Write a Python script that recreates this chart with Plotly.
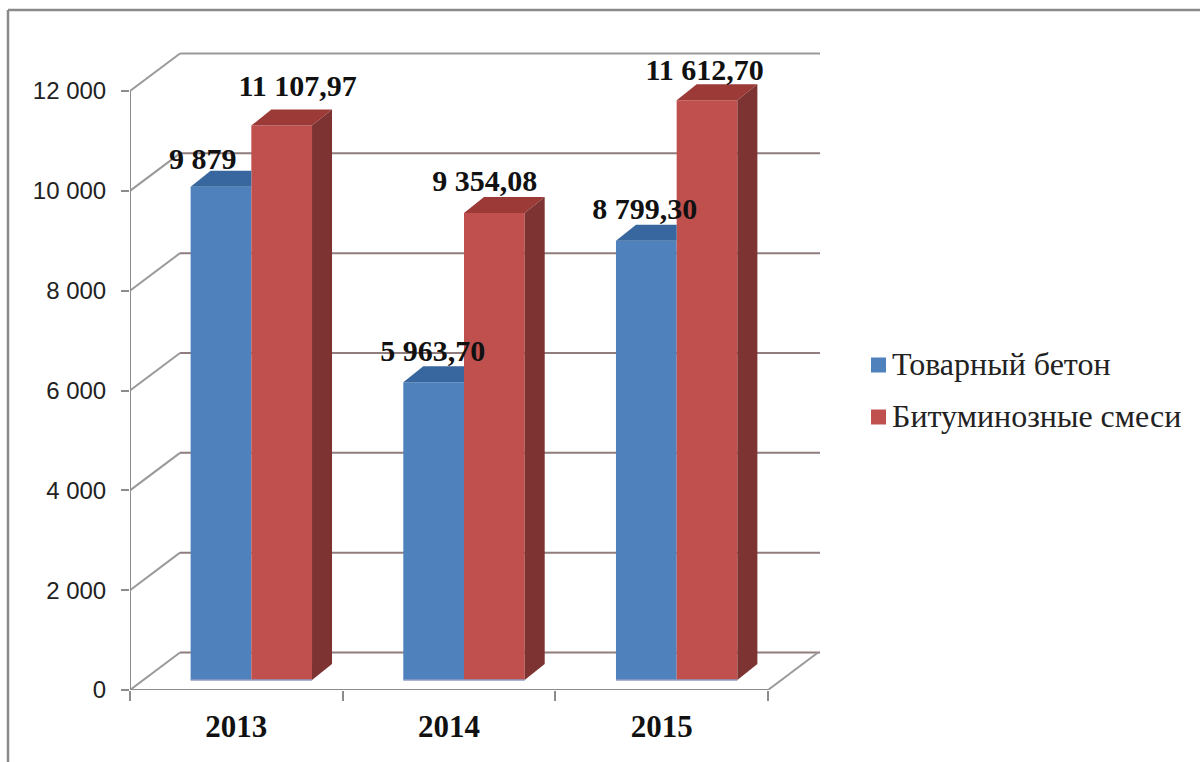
import plotly.graph_objects as go

YEARS = ["2013", "2014", "2015"]
SERIES_A_NAME = "Товарный бетон"
SERIES_B_NAME = "Битуминозные смеси"
CONCRETE = [9879, 5963.70, 8799.30]
ASPHALT = [11107.97, 9354.08, 11612.70]
CONCRETE_LABELS = ["9 879", "5 963,70", "8 799,30"]
ASPHALT_LABELS = ["11 107,97", "9 354,08", "11 612,70"]
Y_TICKS = [0, 2000, 4000, 6000, 8000, 10000, 12000]
Y_TICK_LABELS = ["0", "2 000", "4 000", "6 000", "8 000", "10 000", "12 000"]

W, H = 1200, 762
L, R, T, B = 130, 1200, 50, 690            # plot rectangle in page pixels
PX_PER_X = (768 - 130) / 3
PX_PER_Y = (690 - 91) / 12000
XR = [-0.5, -0.5 + (R - L) / PX_PER_X]
YR = [0, (B - T) / PX_PER_Y]
px = lambda n: n / PX_PER_X
py = lambda n: n / PX_PER_Y

WALL_DX, WALL_DY = px(50), py(37.5)
WALL_END = -0.5 + px(820 - L)
BASE = py(10)
BAR_W = px(60.7)
BAR_START = px(-45.7)
DEPTH_X, DEPTH_Y = px(20), py(16)

BLUE, BLUE_TOP = "#4f81bd", "#38669e"
RED, RED_TOP, RED_SIDE = "#c0504d", "#9c3a38", "#7d3331"
GRID, WALLC, AXIS = "#917d7d", "#9a9a9a", "#8c8c8c"
SERIF = "Liberation Serif"

fig = go.Figure()
shapes = []


def line(x0, y0, x1, y1, color, width=2):
    shapes.append(dict(type="line", xref="x", yref="y", x0=x0, y0=y0, x1=x1, y1=y1,
                       layer="below", line=dict(color=color, width=width)))


# back wall, left wall and floor
for v in Y_TICKS:
    line(-0.5, v, -0.5 + WALL_DX, v + WALL_DY, WALLC)
    line(-0.5 + WALL_DX, v + WALL_DY, WALL_END, v + WALL_DY, WALLC if v == 12000 else GRID)
line(2.5, 0, 2.5 + WALL_DX, WALL_DY, WALLC)

# front faces
fig.add_trace(go.Bar(x=[0, 1, 2], y=CONCRETE, base=BASE, width=BAR_W, offset=BAR_START,
                     marker=dict(color=BLUE, line=dict(width=0)), name=SERIES_A_NAME,
                     showlegend=False))
fig.add_trace(go.Bar(x=[0, 1, 2], y=ASPHALT, base=BASE, width=BAR_W, offset=BAR_START + BAR_W,
                     marker=dict(color=RED, line=dict(width=0)), name=SERIES_B_NAME,
                     showlegend=False))


def face(xs, ys, color):
    fig.add_trace(go.Scatter(x=xs, y=ys, mode="lines", fill="toself", fillcolor=color,
                             line=dict(width=0, color=color), showlegend=False, hoverinfo="skip"))


for i in range(3):
    x0 = i + BAR_START
    xm = x0 + BAR_W
    x1 = xm + BAR_W
    ta = CONCRETE[i] + BASE
    tb = ASPHALT[i] + BASE
    # top of the blue bar, cut off where the red bar starts
    face([x0, x0 + DEPTH_X, xm, xm, x0], [ta, ta + DEPTH_Y, ta + DEPTH_Y, ta, ta], BLUE_TOP)
    # top and side of the red bar
    face([xm, xm + DEPTH_X, x1 + DEPTH_X, x1, xm], [tb, tb + DEPTH_Y, tb + DEPTH_Y, tb, tb], RED_TOP)
    face([x1, x1 + DEPTH_X, x1 + DEPTH_X, x1, x1],
         [BASE, BASE + DEPTH_Y, tb + DEPTH_Y, tb, BASE], RED_SIDE)
    fig.add_trace(go.Scatter(x=[x0, x1], y=[BASE, BASE], mode="lines",
                             line=dict(color="#8d9cc2", width=1.5), showlegend=False,
                             hoverinfo="skip"))

# axis lines
fig.add_trace(go.Scatter(x=[-0.5, 2.5], y=[0, 0], mode="lines", cliponaxis=False,
                         line=dict(color=AXIS, width=2), showlegend=False, hoverinfo="skip"))
fig.add_trace(go.Scatter(x=[-0.5, -0.5], y=[0, 12000], mode="lines", cliponaxis=False,
                         line=dict(color=AXIS, width=2), showlegend=False, hoverinfo="skip"))

# data labels
LABEL_X_A = [px(-33.7), px(-16.3), px(-17)]
LABEL_UP_A = [py(25), py(29), py(29)]
LABEL_X_B = [px(61.3), px(35.7), px(43)]
LABEL_UP_B = [py(37), py(30), py(28)]
fig.add_trace(go.Scatter(
    x=[i + LABEL_X_A[i] for i in range(3)] + [i + LABEL_X_B[i] for i in range(3)],
    y=[CONCRETE[i] + BASE + LABEL_UP_A[i] for i in range(3)]
      + [ASPHALT[i] + BASE + LABEL_UP_B[i] for i in range(3)],
    text=CONCRETE_LABELS + ASPHALT_LABELS, mode="text", textposition="middle center",
    cliponaxis=False,
    textfont=dict(family=SERIF, size=30, color="#111111", weight="bold"),
    showlegend=False, hoverinfo="skip"))

# legend keys and names, placed beside the walls
for name, color, row_px in ((SERIES_A_NAME, BLUE, 365), (SERIES_B_NAME, RED, 417)):
    fig.add_trace(go.Scatter(
        x=[-0.5 + px(878.5 - L)], y=[py(B - row_px)], mode="markers", cliponaxis=False,
        marker=dict(symbol="square", size=15, color=color), name=name,
        showlegend=False, hoverinfo="skip"))
    fig.add_trace(go.Scatter(
        x=[-0.5 + px(892 - L)], y=[py(B - row_px - 2)], mode="text", cliponaxis=False,
        text=[name], textposition="middle right",
        textfont=dict(family=SERIF, size=32, color="#222222"),
        showlegend=False, hoverinfo="skip"))

shapes += [
    dict(type="line", xref="paper", yref="paper", layer="above",
         x0=(8 - L) / (R - L), x1=(1200 - L) / (R - L), y0=(B - 10) / (B - T), y1=(B - 10) / (B - T),
         line=dict(color="#8a8a8a", width=2.5)),
    dict(type="line", xref="paper", yref="paper", layer="above",
         x0=(8 - L) / (R - L), x1=(8 - L) / (R - L), y0=(B - 10) / (B - T), y1=(B - 762) / (B - T),
         line=dict(color="#8a8a8a", width=2.5)),
]

fig.update_layout(
    width=W, height=H, autosize=False,
    margin=dict(l=L, r=W - R, t=T, b=H - B, pad=0),
    paper_bgcolor="white", plot_bgcolor="white",
    barmode="overlay", shapes=shapes, showlegend=False,
    xaxis=dict(range=XR, tickvals=[0, 1, 2], ticktext=YEARS, ticks="", showgrid=False,
               showline=False, zeroline=False, ticklabelstandoff=15,
               tickfont=dict(family=SERIF, size=31, color="#111111", weight="bold"),
               minor=dict(tickvals=[-0.5, 0.5, 1.5, 2.5], ticks="outside", ticklen=10,
                          tickwidth=2, tickcolor=AXIS, showgrid=False)),
    yaxis=dict(range=YR, tickvals=Y_TICKS, ticktext=Y_TICK_LABELS, ticks="outside", ticklen=8,
               tickwidth=2, tickcolor=AXIS, showgrid=False, showline=False, zeroline=False,
               ticklabelstandoff=10,
               tickfont=dict(family="Liberation Sans", size=24, color="#222222")),
)

fig.write_html("out.html", config={"displayModeBar": False},
               post_script="document.body.style.margin='0';document.body.style.overflow='hidden';")
